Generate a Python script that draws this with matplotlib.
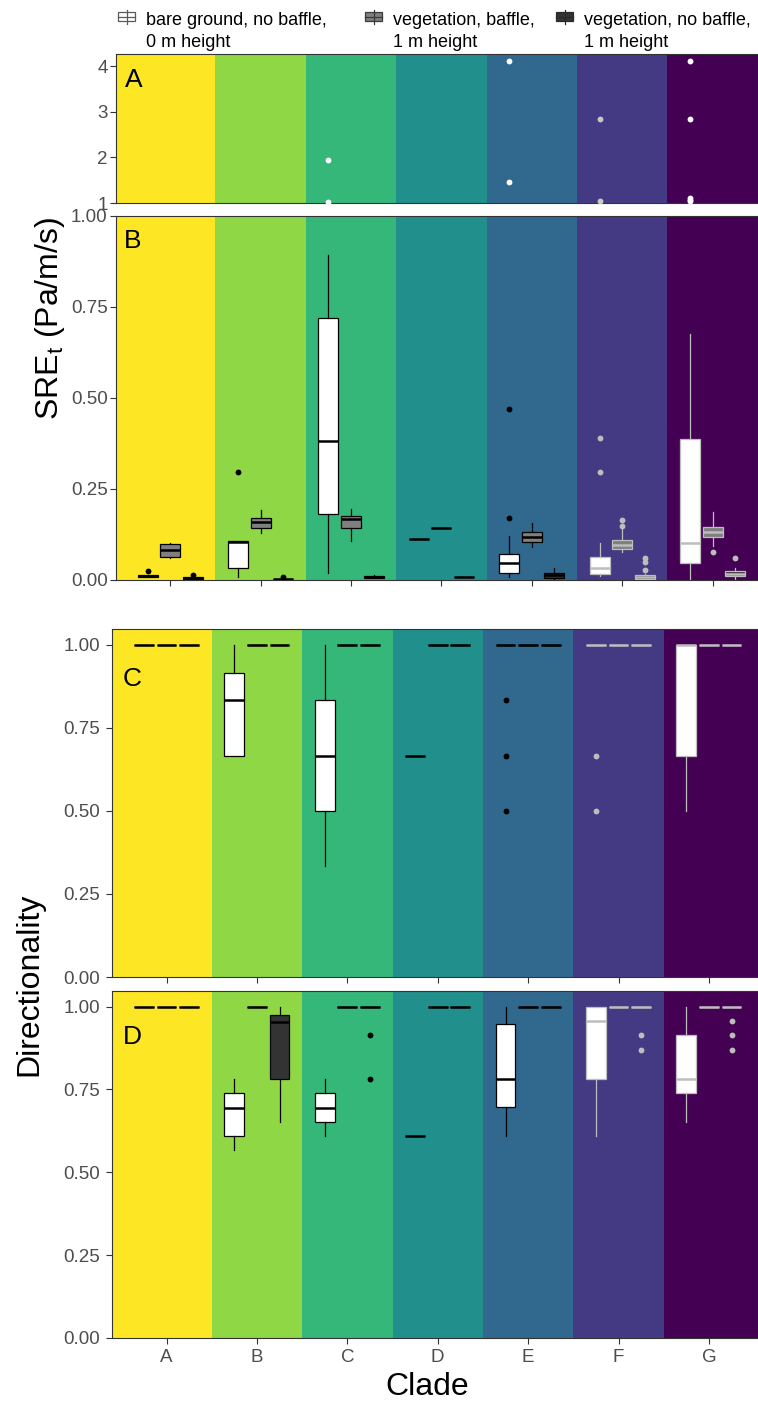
import matplotlib.pyplot as plt
from matplotlib.patches import Rectangle
from matplotlib.lines import Line2D

plt.rcParams['font.family'] = ['Liberation Sans', 'DejaVu Sans']
plt.rcParams['mathtext.fontset'] = 'custom'
plt.rcParams['mathtext.rm'] = 'Liberation Sans'

W, H = 758, 1401

clades = ['A', 'B', 'C', 'D', 'E', 'F', 'G']
treatments = ['bare ground, no baffle,\n0 m height',
              'vegetation, baffle,\n1 m height',
              'vegetation, no baffle,\n1 m height']
band_colors = ['#FDE725', '#8FD744', '#35B779', '#21908C', '#31688E', '#443A83', '#440154']
fill_colors = ['white', '#7f7f7f', '#333333']
line_colors = ['black'] * 5 + ['#bdbdbd'] * 2

# box stats per clade: (whislo, q1, median, q3, whishi)
sre_bare = [(0.008, 0.008, 0.011, 0.014, 0.014),
            (0.009, 0.034, 0.104, 0.107, 0.107),
            (0.018, 0.181, 0.382, 0.720, 0.892),
            (0.112, 0.112, 0.112, 0.112, 0.112),
            (0.007, 0.018, 0.048, 0.071, 0.122),
            (0.012, 0.016, 0.034, 0.064, 0.101),
            (0.003, 0.048, 0.102, 0.388, 0.675)]
sre_bare_out = [[0.025], [0.297], [1.95, 1.03], [], [0.171, 0.470, 4.12, 1.45],
                [0.296, 0.390, 2.85, 1.05], [4.12, 2.85, 1.10, 1.07, 1.05]]
sre_baffle = [(0.060, 0.062, 0.082, 0.099, 0.101),
              (0.128, 0.142, 0.159, 0.171, 0.192),
              (0.108, 0.144, 0.168, 0.177, 0.195),
              (0.144, 0.144, 0.144, 0.144, 0.144),
              (0.091, 0.103, 0.117, 0.131, 0.157),
              (0.078, 0.085, 0.095, 0.109, 0.139),
              (0.094, 0.117, 0.133, 0.146, 0.188)]
sre_baffle_out = [[], [], [], [], [], [0.148, 0.166], [0.077]]
sre_nobaffle = [(0.002, 0.002, 0.005, 0.007, 0.007),
                (0.001, 0.002, 0.003, 0.004, 0.004),
                (0.006, 0.006, 0.008, 0.010, 0.014),
                (0.009, 0.009, 0.009, 0.009, 0.009),
                (0.003, 0.005, 0.013, 0.020, 0.034),
                (0.003, 0.004, 0.008, 0.013, 0.016),
                (0.003, 0.011, 0.017, 0.024, 0.032)]
sre_nobaffle_out = [[0.014], [0.007], [], [], [], [0.027, 0.050, 0.061], [0.061]]

one = (1.0, 1.0, 1.0, 1.0, 1.0)

dir_c_bare = [one,
              (0.667, 0.667, 0.833, 0.917, 1.0),
              (0.333, 0.500, 0.667, 0.833, 1.0),
              (0.667, 0.667, 0.667, 0.667, 0.667),
              one,
              one,
              (0.500, 0.667, 1.0, 1.0, 1.0)]
dir_c_bare_out = [[], [], [], [], [0.833, 0.667, 0.5], [0.667, 0.5], []]
dir_c_baffle = [one] * 7
dir_c_baffle_out = [[]] * 7
dir_c_nobaffle = [one] * 7
dir_c_nobaffle_out = [[]] * 7

dir_d_bare = [one,
              (0.566, 0.610, 0.695, 0.739, 0.783),
              (0.610, 0.652, 0.695, 0.739, 0.783),
              (0.610, 0.610, 0.610, 0.610, 0.610),
              (0.610, 0.696, 0.783, 0.947, 1.0),
              (0.610, 0.783, 0.958, 1.0, 1.0),
              (0.653, 0.739, 0.783, 0.914, 1.0)]
dir_d_bare_out = [[]] * 7
dir_d_baffle = [one] * 7
dir_d_baffle_out = [[]] * 7
dir_d_nobaffle = [one,
                  (0.653, 0.783, 0.953, 0.974, 1.0),
                  one, one, one, one, one]
dir_d_nobaffle_out = [[], [], [0.914, 0.783], [], [], [0.914, 0.869], [0.957, 0.914, 0.869]]

offsets = [-0.25, 0.0, 0.25]


def px_axes(left, top, bottom, right=W):
    return [left / W, 1 - bottom / H, (right - left) / W, (bottom - top) / H]


def draw_panel(ax, groups, flier_colors, pad):
    for i, c in enumerate(band_colors):
        lo = i - 0.5 if i > 0 else -2
        hi = i + 0.5 if i < len(band_colors) - 1 else 9
        ax.axvspan(lo, hi, color=c, lw=0, zorder=0)
    for t, (rows, outs) in enumerate(groups):
        for ci, (row, out) in enumerate(zip(rows, outs)):
            lo, q1, med, q3, hi = row
            st = dict(whislo=lo, q1=q1, med=med, q3=q3, whishi=hi, fliers=out)
            lc = line_colors[ci]
            ax.bxp([st], positions=[ci + offsets[t]], widths=0.22,
                   patch_artist=True, showcaps=False, manage_ticks=False,
                   boxprops=dict(facecolor=fill_colors[t], edgecolor=lc, linewidth=0.9),
                   medianprops=dict(color=lc, linewidth=1.8),
                   whiskerprops=dict(color=lc, linewidth=0.9),
                   flierprops=dict(marker='o', markersize=4.2, markeredgecolor='none',
                                   markerfacecolor=flier_colors[ci]),
                   zorder=3)
    for s in ax.spines.values():
        s.set_color('#333333')
        s.set_linewidth(0.8)
    ax.tick_params(direction='out', length=4, width=0.8, color='#333333',
                   labelsize=13.5, labelcolor='#4d4d4d', pad=pad)
    ax.set_xticks(range(len(clades)))


fig = plt.figure(figsize=(W / 100, H / 100), dpi=100)

ax_a = fig.add_axes(px_axes(116, 54, 203))
ax_b = fig.add_axes(px_axes(116, 215.7, 580))
ax_c = fig.add_axes(px_axes(112.3, 629, 977))
ax_d = fig.add_axes(px_axes(112.3, 990.7, 1338))

sre_groups = [(sre_bare, sre_bare_out), (sre_baffle, sre_baffle_out),
              (sre_nobaffle, sre_nobaffle_out)]
top_dots = ['white'] * 5 + ['#c8c8c8', 'white']
dark_dots = line_colors

draw_panel(ax_a, sre_groups, top_dots, 2)
draw_panel(ax_b, sre_groups, dark_dots, 2)
draw_panel(ax_c, [(dir_c_bare, dir_c_bare_out), (dir_c_baffle, dir_c_baffle_out),
                  (dir_c_nobaffle, dir_c_nobaffle_out)], dark_dots, 5)
draw_panel(ax_d, [(dir_d_bare, dir_d_bare_out), (dir_d_baffle, dir_d_baffle_out),
                  (dir_d_nobaffle, dir_d_nobaffle_out)], dark_dots, 5)

ax_a.set_xlim(-0.6, 6.502)
ax_b.set_xlim(-0.6, 6.502)
ax_c.set_xlim(-0.6, 6.543)
ax_d.set_xlim(-0.6, 6.543)

ax_a.set_ylim(1, 4.265)
ax_a.set_yticks([1, 2, 3, 4])
ax_a.tick_params(axis='x', length=0, labelbottom=False)
ax_b.set_ylim(0, 1)
ax_b.set_yticks([0, 0.25, 0.5, 0.75, 1.0], ['0.00', '0.25', '0.50', '0.75', '1.00'])
ax_b.tick_params(axis='x', labelbottom=False)
for ax in (ax_c, ax_d):
    ax.set_ylim(0, 1.048)
    ax.set_yticks([0, 0.25, 0.5, 0.75, 1.0], ['0.00', '0.25', '0.50', '0.75', '1.00'])
ax_c.tick_params(axis='x', labelbottom=False)
ax_d.set_xticklabels(clades)
ax_d.tick_params(axis='x', pad=4)


def fx(x):
    return x / W


def fy(y):
    return 1 - y / H


# panel letters
for lab, (x, y) in zip(['A', 'B', 'C', 'D'], [(125, 87), (124, 248), (123, 686), (123, 1044)]):
    fig.text(fx(x), fy(y), lab, fontsize=19, va='baseline', ha='left')

fig.text(fx(50), fy(318), r'SRE$_\mathregular{t}$ (Pa/m/s)', rotation=90,
         fontsize=23, ha='center', va='center')
fig.text(fx(29), fy(984), 'Directionality', rotation=90,
         fontsize=23, ha='center', va='center')
fig.text(fx(427), fy(1395), 'Clade', fontsize=23, ha='center', va='baseline')

# legend: small boxplot glyph + two-line label
key_x = [118, 365, 556]
text_x = [146, 393, 584]
key_edges = ['#5a5a5a', '#3a3a3a', '#2a2a2a']
for t, label in enumerate(treatments):
    x0, x1, yc = key_x[t], key_x[t] + 17, 16.5
    xm = (x0 + x1) / 2
    fig.add_artist(Line2D([fx(xm), fx(xm)], [fy(yc - 7), fy(yc + 7)],
                          color=key_edges[t], lw=0.9))
    fig.add_artist(Rectangle((fx(x0), fy(yc + 4)), (x1 - x0) / W, 8 / H,
                             facecolor=fill_colors[t], edgecolor=key_edges[t], lw=0.9))
    fig.add_artist(Line2D([fx(x0), fx(x1)], [fy(yc), fy(yc)],
                          color=key_edges[t], lw=0.9))
    fig.text(fx(text_x[t]), fy(47), label, fontsize=13, ha='left', va='baseline',
             linespacing=1.4)

fig.savefig('out.png', dpi=100)
